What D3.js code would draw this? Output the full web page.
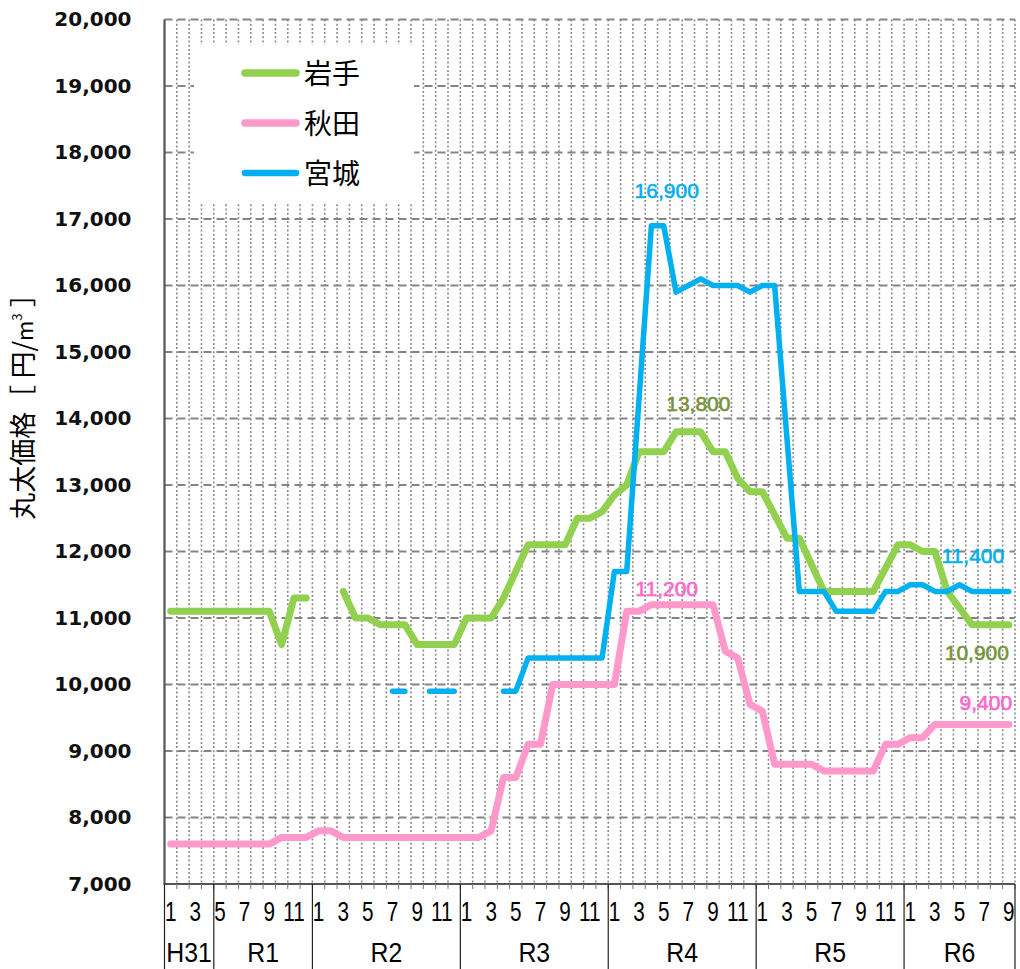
<!DOCTYPE html>
<html><head><meta charset="utf-8">
<script src="https://cdn.jsdelivr.net/npm/d3@7"></script>
<style>body{margin:0;background:#fff}</style>
</head><body>
<svg id="c" width="1020" height="969"></svg>
<script>
// ---- data ----
const eras = ["H31","R1","R2","R3","R4","R5","R6"];
const eraMonths = [
  [1,2,3,4],
  [5,6,7,8,9,10,11,12],
  [1,2,3,4,5,6,7,8,9,10,11,12],
  [1,2,3,4,5,6,7,8,9,10,11,12],
  [1,2,3,4,5,6,7,8,9,10,11,12],
  [1,2,3,4,5,6,7,8,9,10,11,12],
  [1,2,3,4,5,6,7,8,9]
];
const yTicks = [7000,8000,9000,10000,11000,12000,13000,14000,15000,16000,17000,18000,19000,20000];
const seriesNames = ["岩手","秋田","宮城"];
const iwate = [
  11100,11100,11100,11100,11100,11100,11100,11100,11100,10600,11300,11300,
  null,null,11400,11000,11000,10900,10900,10900,10600,10600,10600,10600,
  11000,11000,11000,11300,11700,12100,12100,12100,12100,12500,12500,12600,
  12850,13000,13500,13500,13500,13800,13800,13800,13500,13500,13100,12900,
  12900,12550,12200,12200,11800,11400,11400,11400,11400,11400,11750,12100,
  12100,12000,12000,11400,11150,10900,10900,10900,10900
];
const akita = [
  7600,7600,7600,7600,7600,7600,7600,7600,7600,7700,7700,7700,
  7800,7800,7700,7700,7700,7700,7700,7700,7700,7700,7700,7700,
  7700,7700,7800,8600,8600,9100,9100,10000,10000,10000,10000,10000,
  10000,11100,11100,11200,11200,11200,11200,11200,11200,10500,10400,9700,
  9600,8800,8800,8800,8800,8700,8700,8700,8700,8700,9100,9100,
  9200,9200,9400,9400,9400,9400,9400,9400,9400
];
const miyagi = [
  null,null,null,null,null,null,null,null,null,null,null,null,
  null,null,null,null,null,null,9900,9900,null,9900,9900,9900,
  null,null,null,9900,9900,10400,10400,10400,10400,10400,10400,10400,
  11700,11700,14300,16900,16900,15900,16000,16100,16000,16000,16000,15900,
  16000,16000,13700,11400,11400,11400,11100,11100,11100,11100,11400,11400,
  11500,11500,11400,11400,11500,11400,11400,11400,11400
];
// data labels: [series index, band index, value]
const dataLabels = [
  [2, 40, 16900], [0, 42, 13800], [1, 40, 11200],
  [2, 68, 11400], [0, 68, 10900], [1, 68, 9400]
];

// ---- build categories ----
const categories = [];
eras.forEach((e, ei) => eraMonths[ei].forEach(m => categories.push(e + "-" + m)));
const series = [iwate, akita, miyagi];
const colors = ["#92D050", "#FF99CC", "#00B0F0"];
const labelColors = ["#77933C", "#FF66CC", "#00B0F0"];
const widths = [7, 7, 5.5];

const svg = d3.select("#c");
const L = 164.5, R = 1015, T = 19.5, B = 884;
const x = d3.scaleBand().domain(categories).range([L, R]).padding(0);
const y = d3.scaleLinear().domain([7000, 20000]).range([B, T]);
const bw = x.bandwidth();
const cx = i => x(categories[i]) + bw / 2;

// vertical dotted grid (band boundaries)
svg.append("g").selectAll("line").data(d3.range(1, categories.length + 1)).join("line")
  .attr("x1", i => L + i * bw).attr("x2", i => L + i * bw)
  .attr("y1", T).attr("y2", B)
  .attr("stroke", "#8a8a8a").attr("stroke-width", 1.6).attr("stroke-dasharray", "2,2.2");

// horizontal dashed grid
svg.append("g").selectAll("line").data(yTicks.slice(1)).join("line")
  .attr("x1", L).attr("x2", R).attr("y1", d => y(d)).attr("y2", d => y(d))
  .attr("stroke", "#858585").attr("stroke-width", 2).attr("stroke-dasharray", "8,5");

// y axis
const yAxis = d3.axisLeft(y).tickValues(yTicks).tickFormat(d3.format(",")).tickSize(0).tickPadding(33);
const gy = svg.append("g").attr("transform", `translate(${L},0)`).call(yAxis);
gy.select(".domain").remove();
gy.selectAll("text").attr("font-family", "DejaVu Sans").attr("font-weight", "bold")
  .attr("font-size", 20).attr("fill", "#111");
svg.append("line").attr("x1", L).attr("x2", L).attr("y1", T).attr("y2", B)
  .attr("stroke", "#555").attr("stroke-width", 2.2);

// x axis line + small ticks
svg.append("line").attr("x1", L - 1).attr("x2", R).attr("y1", B).attr("y2", B)
  .attr("stroke", "#555").attr("stroke-width", 2.2);
svg.append("g").selectAll("line").data(d3.range(0, categories.length + 1)).join("line")
  .attr("x1", i => L + i * bw).attr("x2", i => L + i * bw)
  .attr("y1", B).attr("y2", B + 5).attr("stroke", "#777").attr("stroke-width", 1);

// year separators
let acc = 0;
const bounds = [0];
eraMonths.forEach(m => { acc += m.length; bounds.push(acc); });
svg.append("g").selectAll("line").data(bounds).join("line")
  .attr("x1", i => L + i * bw).attr("x2", i => L + i * bw)
  .attr("y1", B).attr("y2", 969).attr("stroke", "#222").attr("stroke-width", 1.2);

// month labels (odd months)
const monthG = svg.append("g").attr("font-family", "Liberation Sans").attr("font-size", 28).attr("fill", "#000");
categories.forEach((c, i) => {
  const m = +c.split("-")[1];
  if (m % 2 === 1) {
    monthG.append("text").attr("transform", `translate(${cx(i)},921) scale(0.74,1)`)
      .attr("text-anchor", "middle").text(m);
  }
});
// era labels
svg.append("g").selectAll("text").data(eras).join("text")
  .attr("transform", (d, i) => `translate(${L + (bounds[i] + bounds[i + 1]) / 2 * bw},962) scale(0.92,1)`)
  .attr("text-anchor", "middle")
  .attr("font-family", "Liberation Sans").attr("font-size", 27).attr("fill", "#000")
  .text(d => d);

// lines
const line = d3.line().defined(d => d != null).x((d, i) => cx(i)).y(d => y(d));
series.forEach((s, k) => {
  svg.append("path").datum(s).attr("d", line).attr("fill", "none")
    .attr("stroke", colors[k]).attr("stroke-width", widths[k])
    .attr("stroke-linejoin", "round").attr("stroke-linecap", "round");
});

// data labels
const offs = [[3, -28], [10, -21], [3, -9], [-36, -28], [-32, 35], [-23, -14]];
dataLabels.forEach((d, j) => {
  const [k, i, v] = d;
  svg.append("text").attr("x", cx(i) + offs[j][0]).attr("y", y(v) + offs[j][1])
    .attr("text-anchor", "middle").attr("font-family", "Liberation Sans").attr("font-size", 21)
    .attr("fill", labelColors[k]).attr("stroke", labelColors[k]).attr("stroke-width", 0.6)
    .text(d3.format(",")(v));
});

// legend
const lg = svg.append("g");
lg.append("rect").attr("x", 194).attr("y", 45).attr("width", 220).attr("height", 157).attr("fill", "#fff");
seriesNames.forEach((n, k) => {
  const ly = 73 + k * 50;
  lg.append("line").attr("x1", 245).attr("x2", 296).attr("y1", ly).attr("y2", ly)
    .attr("stroke", colors[k]).attr("stroke-width", k === 2 ? 6.5 : 7.5).attr("stroke-linecap", "round");
  lg.append("text").attr("x", 304).attr("y", ly + 10.5).attr("font-family", "Noto Sans CJK JP")
    .attr("font-size", 28).attr("fill", "#000").text(n);
});

// y title
const yt = svg.append("text").attr("transform", "translate(33,400) rotate(-90)")
  .attr("text-anchor", "middle").attr("font-family", "Noto Sans CJK JP").attr("font-size", 27).attr("fill", "#000");
yt.append("tspan").text("丸太価格［ 円/");
yt.append("tspan").attr("font-size", 22).text("m");
yt.append("tspan").attr("font-size", 13).attr("dy", -11).text("3");
yt.append("tspan").attr("dy", 11).text(" ］");
</script>
</body></html>
